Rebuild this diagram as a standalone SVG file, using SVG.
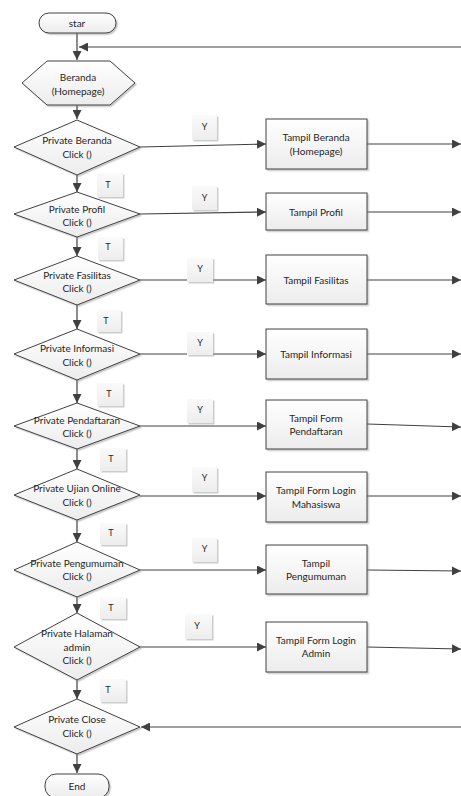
<svg xmlns="http://www.w3.org/2000/svg" width="461" height="796" viewBox="0 0 461 796">
<style>
.shape{fill:url(#g);stroke:#404040;stroke-width:1;filter:url(#sh)}
.lbl{fill:url(#g2);stroke:none;filter:url(#sh2)}
.t{font-family:Lato,"Open Sans","Liberation Sans",sans-serif;font-size:10px;fill:#262626;text-anchor:middle;dominant-baseline:central}
.s{font-family:Lato,"Liberation Sans",sans-serif;font-size:9px;fill:#262626;text-anchor:middle;dominant-baseline:central}
.c{fill:none;stroke:#404040;stroke-width:1.2}
.a{marker-end:url(#ah)}
</style>
<defs>
<linearGradient id="g" x1="0" y1="0" x2="0" y2="1"><stop offset="0" stop-color="#ffffff"/><stop offset="1" stop-color="#ececec"/></linearGradient>
<linearGradient id="g2" x1="0" y1="0" x2="0" y2="1"><stop offset="0" stop-color="#fafafa"/><stop offset="1" stop-color="#ededed"/></linearGradient>
<filter id="sh" x="-10%" y="-10%" width="130%" height="130%"><feDropShadow dx="1.5" dy="1.5" stdDeviation="0.7" flood-color="#888" flood-opacity="0.45"/></filter>
<filter id="sh2" x="-20%" y="-20%" width="150%" height="150%"><feDropShadow dx="1.5" dy="1.5" stdDeviation="0.6" flood-color="#999" flood-opacity="0.5"/></filter>
<marker id="ah" markerUnits="userSpaceOnUse" markerWidth="10" markerHeight="9" refX="9" refY="4.5" orient="auto"><path d="M0,0 L9,4.5 L0,9 Z" fill="#404040"/></marker>
</defs>

<g id="connectors">
<path class="c a" d="M77,33 V60"/>
<path class="c a" d="M461,47 H79"/>
<path class="c a" d="M77,105 V119"/>
<path class="c a" d="M77,175 V192"/>
<path class="c a" d="M77,237 V256"/>
<path class="c a" d="M77,305 V329"/>
<path class="c a" d="M77,380 V403"/>
<path class="c a" d="M77,449 V469"/>
<path class="c a" d="M77,520 V542"/>
<path class="c a" d="M77,597 V613"/>
<path class="c a" d="M77,680 V699"/>
<path class="c a" d="M77,754 V773"/>
<path class="c a" d="M140,147 L266,144"/>
<path class="c a" d="M140,214 L266,212"/>
<path class="c a" d="M140,280 L266,280"/>
<path class="c a" d="M140,354 L266,354"/>
<path class="c a" d="M140,426 L266,426"/>
<path class="c a" d="M140,496 L266,496"/>
<path class="c a" d="M140,570 L266,570"/>
<path class="c a" d="M140,647 L266,647"/>
<path class="c a" d="M367,144 L461,144"/>
<path class="c a" d="M367,212 L461,212"/>
<path class="c a" d="M367,280 L461,280"/>
<path class="c a" d="M367,354 L461,354"/>
<path class="c a" d="M367,424 L461,427"/>
<path class="c a" d="M367,496 L461,496"/>
<path class="c a" d="M367,570 L461,571"/>
<path class="c a" d="M367,647 L461,649"/>
<path class="c a" d="M461,727 L141,727"/>
</g>

<g id="star"><rect class="shape" x="39" y="13" width="77" height="20" rx="10"/><text class="t" x="77" y="23">star</text></g>
<g id="beranda"><polygon class="shape" points="22,83 47,61 110,61 135,83 110,105 47,105"/><text class="t" x="78" y="77">Beranda</text><text class="t" x="78" y="91">(Homepage)</text></g>

<g id="d1"><polygon class="shape" points="77,120 140,147 77,175 14,147"/><text class="t" x="77" y="140">Private Beranda</text><text class="t" x="77" y="154">Click ()</text></g>
<g id="d2"><polygon class="shape" points="77,192 140,214 77,237 14,214"/><text class="t" x="77" y="209">Private Profil</text><text class="t" x="77" y="222">Click ()</text></g>
<g id="d3"><polygon class="shape" points="77,256 140,280 77,305 14,280"/><text class="t" x="77" y="275">Private Fasilitas</text><text class="t" x="77" y="288">Click ()</text></g>
<g id="d4"><polygon class="shape" points="77,329 140,354 77,380 14,354"/><text class="t" x="77" y="348">Private Informasi</text><text class="t" x="77" y="362">Click ()</text></g>
<g id="d5"><polygon class="shape" points="77,403 140,426 77,449 14,426"/><text class="t" x="77" y="420">Private Pendaftaran</text><text class="t" x="77" y="433">Click ()</text></g>
<g id="d6"><polygon class="shape" points="77,469 140,495 77,520 14,495"/><text class="t" x="77" y="488">Private Ujian Online</text><text class="t" x="77" y="502">Click ()</text></g>
<g id="d7"><polygon class="shape" points="77,542 140,570 77,597 14,570"/><text class="t" x="77" y="563">Private Pengumuman</text><text class="t" x="77" y="576">Click ()</text></g>
<g id="d8"><polygon class="shape" points="77,613 140,647 77,680 14,647"/><text class="t" x="77" y="633">Private Halaman</text><text class="t" x="77" y="647">admin</text><text class="t" x="77" y="660">Click ()</text></g>
<g id="d9"><polygon class="shape" points="77,699 140,727 77,754 14,727"/><text class="t" x="77" y="719">Private Close</text><text class="t" x="77" y="733">Click ()</text></g>
<g id="end"><rect class="shape" x="45" y="774" width="64" height="24" rx="11"/><text class="t" x="77" y="786">End</text></g>

<g id="p1"><rect class="shape" x="266" y="119" width="101" height="50"/><text class="t" x="316" y="137">Tampil Beranda</text><text class="t" x="316" y="151">(Homepage)</text></g>
<g id="p2"><rect class="shape" x="266" y="193" width="101" height="37"/><text class="t" x="316" y="212">Tampil Profil</text></g>
<g id="p3"><rect class="shape" x="266" y="255" width="101" height="49"/><text class="t" x="316" y="280">Tampil Fasilitas</text></g>
<g id="p4"><rect class="shape" x="266" y="329" width="101" height="50"/><text class="t" x="316" y="354">Tampil Informasi</text></g>
<g id="p5"><rect class="shape" x="266" y="400" width="101" height="49"/><text class="t" x="316" y="418">Tampil Form</text><text class="t" x="316" y="431">Pendaftaran</text></g>
<g id="p6"><rect class="shape" x="266" y="472" width="101" height="50"/><text class="t" x="316" y="490">Tampil Form Login</text><text class="t" x="316" y="504">Mahasiswa</text></g>
<g id="p7"><rect class="shape" x="266" y="545" width="101" height="49"/><text class="t" x="316" y="563">Tampil</text><text class="t" x="316" y="576">Pengumuman</text></g>
<g id="p8"><rect class="shape" x="266" y="622" width="101" height="50"/><text class="t" x="316" y="640">Tampil Form Login</text><text class="t" x="316" y="653">Admin</text></g>

<g id="labels">
<rect class="lbl" x="192" y="115" width="25" height="25"/><text class="s" x="204.5" y="126">Y</text>
<rect class="lbl" x="192" y="186" width="25" height="24"/><text class="s" x="204.5" y="197">Y</text>
<rect class="lbl" x="187" y="258" width="26" height="24"/><text class="s" x="200" y="268">Y</text>
<rect class="lbl" x="187" y="332" width="26" height="23"/><text class="s" x="200" y="342">Y</text>
<rect class="lbl" x="187" y="399" width="26" height="24"/><text class="s" x="200" y="409">Y</text>
<rect class="lbl" x="192" y="467" width="25" height="25"/><text class="s" x="204.5" y="477">Y</text>
<rect class="lbl" x="192" y="538" width="25" height="24"/><text class="s" x="204.5" y="548">Y</text>
<rect class="lbl" x="185" y="614" width="27" height="25"/><text class="s" x="197" y="625">Y</text>
<rect class="lbl" x="97" y="173" width="26" height="24"/><text class="s" x="108" y="184">T</text>
<rect class="lbl" x="98" y="237" width="25" height="23"/><text class="s" x="108" y="246">T</text>
<rect class="lbl" x="97" y="310" width="24" height="22"/><text class="s" x="106" y="320">T</text>
<rect class="lbl" x="97" y="383" width="26" height="23"/><text class="s" x="109" y="393">T</text>
<rect class="lbl" x="100" y="448" width="26" height="23"/><text class="s" x="111" y="458">T</text>
<rect class="lbl" x="100" y="523" width="26" height="22"/><text class="s" x="111" y="532">T</text>
<rect class="lbl" x="100" y="597" width="26" height="22"/><text class="s" x="111" y="607">T</text>
<rect class="lbl" x="100" y="679" width="26" height="23"/><text class="s" x="108" y="689">T</text>
</g>
</svg>
